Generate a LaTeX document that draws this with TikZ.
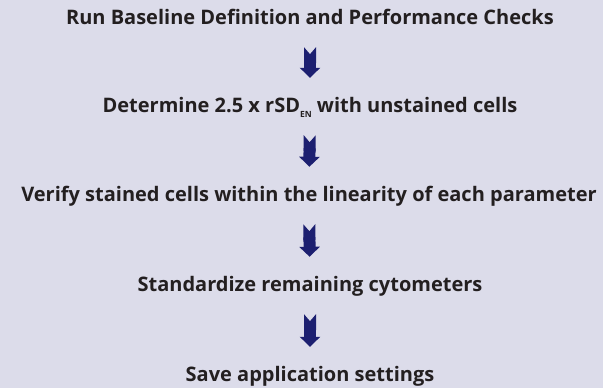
\documentclass[tikz,border=0pt]{standalone}
\usepackage{fontspec}
\setmainfont{Open Sans}
\usepackage{tikz}
\usetikzlibrary{arrows.meta}

\definecolor{panelbg}{RGB}{220,220,234}
\definecolor{flowblue}{RGB}{28,31,112}
\definecolor{stepgray}{RGB}{35,31,32}

\newcommand{\lowsub}[1]{\raisebox{-4.5pt}{\fontsize{8.5}{9}\selectfont #1}}

\begin{document}
\begin{tikzpicture}[x=1pt, y=1pt,
        stepnode/.style={inner sep=0pt, anchor=base, text height=14pt, text depth=4pt,
            font=\fontsize{20}{24}\selectfont\bfseries, text=stepgray},
        flow/.style={flowblue, line width=12pt, shorten <=18pt, shorten >=21pt,
            {Triangle Cap[reversed, length=7pt]}-{Triangle[width=20pt, length=10pt]}}]
        % Background panel
        \fill[panelbg] (0,0) rectangle (603,388);
        
        % Steps, top to bottom
        \node[stepnode] (baseline) at (310,363) {Run Baseline Definition and Performance Checks};
        \node[stepnode] (rsd) at (310,275) {Determine 2.5 x rSD\lowsub{EN} with unstained cells};
        \node[stepnode] (verify) at (309,186) {Verify stained cells within the linearity of each parameter};
        \node[stepnode] (standard) at (310,96) {Standardize remaining cytometers};
        \node[stepnode] (save) at (310,6) {Save application settings};
        
        % Block arrows between steps
        \draw[flow] (baseline) -- (rsd);
        \draw[flow] (rsd) -- (verify);
        \draw[flow] (verify) -- (standard);
        \draw[flow] (standard) -- (save);
    \end{tikzpicture}
\end{document}
